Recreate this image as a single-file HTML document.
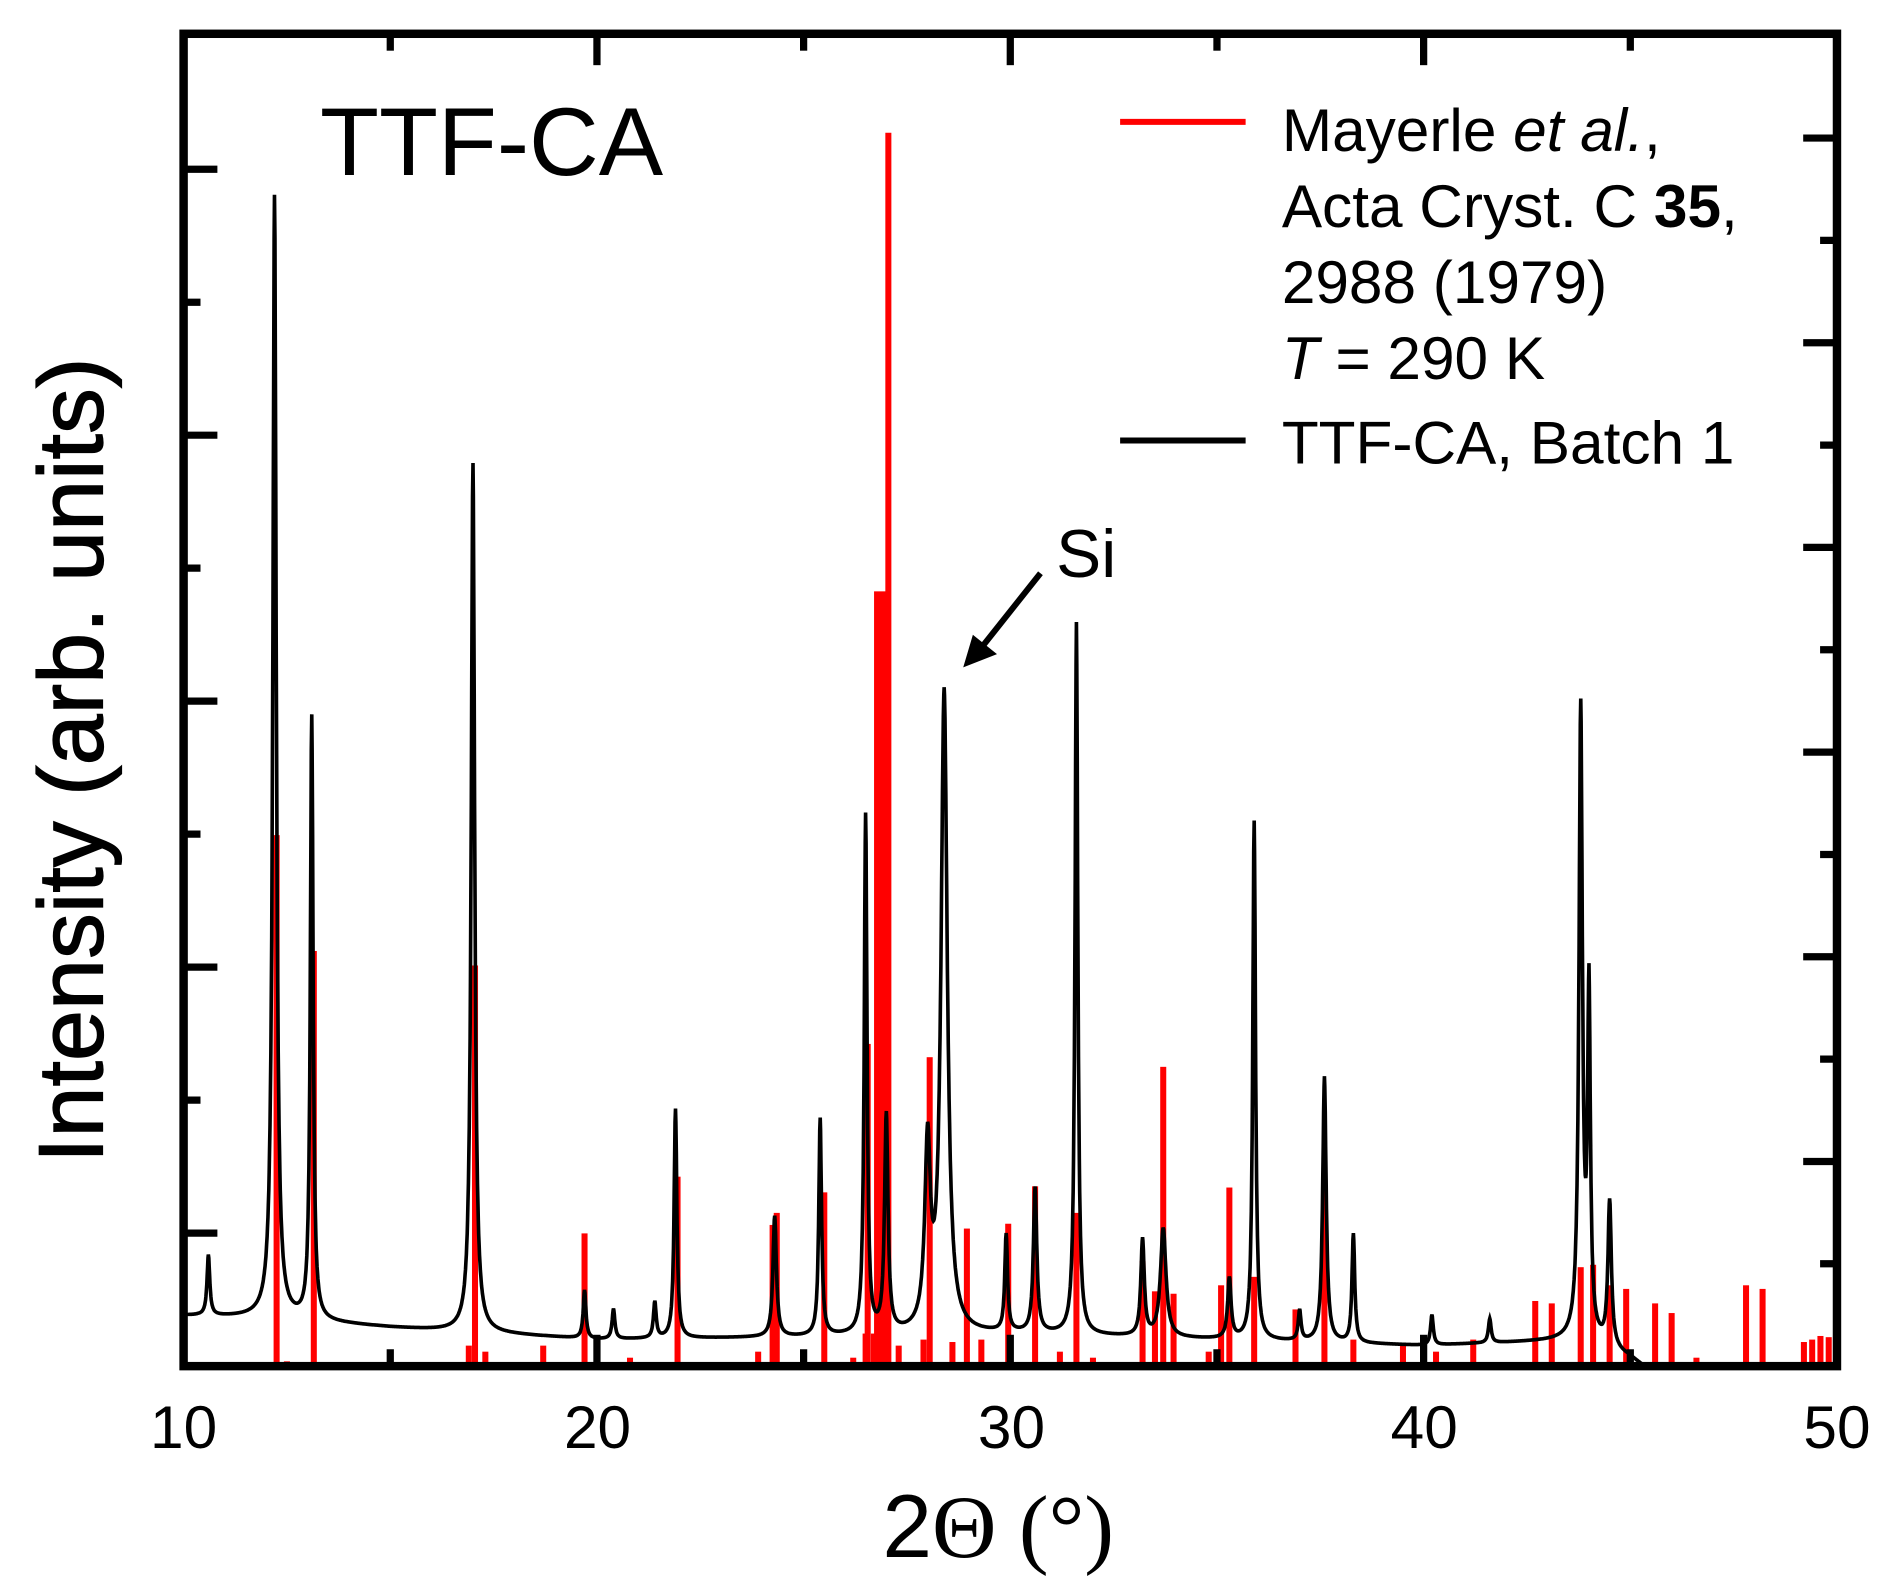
<!DOCTYPE html>
<html><head><meta charset="utf-8"><style>html,body{margin:0;padding:0;background:#fff}svg{display:block}</style></head>
<body>
<svg id="chart" width="1883" height="1587" viewBox="0 0 1560 1315" xmlns="http://www.w3.org/2000/svg" font-family="Liberation Sans, Arial, sans-serif">
<g id="plot"></g>
<g font-size="50" text-anchor="middle" fill="#000">
<text x="152" y="1200">10</text><text x="495" y="1200">20</text><text x="838" y="1200">30</text><text x="1180" y="1200">40</text><text x="1522" y="1200">50</text>
</g>
<text x="827" y="1290" font-size="74" text-anchor="middle">2<tspan font-family="Liberation Serif, serif">Θ (°)</tspan></text>
<text transform="translate(85,630) rotate(-90)" font-size="76" text-anchor="middle" stroke="#000" stroke-width="1">Intensity (arb. units)</text>
<text x="265" y="145" font-size="80">TTF-CA</text>
<text x="875" y="478" font-size="56">Si</text>
<g>
<line x1="862" y1="475" x2="812" y2="538" stroke="#000" stroke-width="5"/>
<polygon points="798,553 806,526 826,542" fill="#000"/>
</g>
<g font-size="50" fill="#000">
<line x1="928" y1="101" x2="1032" y2="101" stroke="#f00" stroke-width="5"/>
<text x="1062" y="125">Mayerle <tspan font-style="italic">et al.</tspan>,</text>
<text x="1062" y="188">Acta Cryst. C <tspan font-weight="bold">35</tspan>,</text>
<text x="1062" y="251">2988 (1979)</text>
<text x="1062" y="314"><tspan font-style="italic">T</tspan> = 290 K</text>
<line x1="928" y1="365" x2="1032" y2="365" stroke="#000" stroke-width="5"/>
<text x="1062" y="384">TTF-CA, Batch 1</text>
</g>
</svg>
<script>
// Reference stick pattern (red): 2θ positions and intensities (arb.)
const refPos = [12.25,12.5,13.15,16.9,17.05,17.3,18.7,19.7,20.8,21.95,23.9,24.25,24.35,25.5,26.2,26.5,26.55,26.7,26.85,27.05,27.3,27.9,28.05,28.6,28.95,29.3,29.95,30.6,31.2,31.6,32.0,33.2,33.5,33.7,33.95,34.8,35.1,35.3,35.9,36.9,37.6,38.3,39.5,40.3,41.2,42.7,43.1,43.8,44.1,44.5,44.9,45.6,46.0,46.6,47.8,48.2,49.2,49.4,49.6,49.8];
const refInt = [44,0.4,34.4,1.7,33.2,1.2,1.7,11,0.7,15.7,1.2,11.7,12.7,14.4,0.7,2.7,26.7,2.7,64.2,102.2,1.7,2.2,25.6,2,11.4,2.2,11.8,14.9,1.2,12.7,0.7,8.7,6.2,24.8,6,1.2,6.7,14.8,7.4,4.7,15.2,2.2,1.7,1.2,2.2,5.4,5.2,8.2,8.4,6.7,6.4,5.2,4.4,0.7,6.7,6.4,2,2.2,2.5,2.4];
const refWidth = [1,1,1,1,1,1,1,1,1,1,1,1,1,1,1,1,1,1,2,1,1,1,1,1,1,1,1,1,1,1,1,1,1,1,1,1,1,1,1,1,1,1,1,1,1,1,1,1,1,1,1,1,1,1,1,1,1,1,1,1];
// Measured pattern (black): background and peaks
const bgPos = [10,12,15,20,25,30,35,40,44,45,45.3];
const bgInt = [4.2,4.0,3.2,2.2,2.4,2.7,2.2,1.7,2.2,0.7,0];
const pkPos = [10.6,12.2,13.1,17.0,19.7,20.4,21.4,21.9,24.3,25.4,26.5,27.0,28.0,28.4,29.9,30.6,31.6,33.2,33.7,35.3,35.9,37.0,37.6,38.3,40.2,41.6,43.8,44.0,44.5];
const pkInt = [5,93,50,72,4,2.5,3,19,10,18,43,18,15,53,8,12,59,8,9,5,43,2.5,22,9,2.5,2,52,28,12];
const pkHw  = [0.04,0.05,0.04,0.05,0.04,0.04,0.04,0.04,0.05,0.04,0.04,0.05,0.08,0.09,0.04,0.05,0.04,0.05,0.08,0.05,0.04,0.04,0.05,0.04,0.04,0.04,0.05,0.04,0.05];
const xTicksMajor = [10,20,30,40,50];
const xTicksMinor = [15,25,35,45];

const L=152,R=1522,T=28,B=1132;
const xs = v => L + (v-10)/(50-10)*(R-L);
const ys = v => B - v*10;
const NS='http://www.w3.org/2000/svg';
const plot=document.getElementById('plot');
function mk(tag,attrs){const e=document.createElementNS(NS,tag);for(const k in attrs)e.setAttribute(k,attrs[k]);return e;}

// red sticks
refPos.forEach((p,i)=>{
  const w=5*refWidth[i];
  const r=mk('rect',{x:xs(p)-w/2,y:ys(refInt[i]),width:w,height:B-ys(refInt[i]),fill:'#f00'});
  
  
  plot.appendChild(r);
});
// black curve
function bg(x){
  if(x>=bgPos[bgPos.length-1])return 0;
  for(let i=0;i<bgPos.length-1;i++){if(x>=bgPos[i]&&x<=bgPos[i+1]){const t=(x-bgPos[i])/(bgPos[i+1]-bgPos[i]);return bgInt[i]+t*(bgInt[i+1]-bgInt[i]);}}
  return 0;
}
let pts=[];
const xEnd=bgPos[bgPos.length-1];
for(let x=10;x<=xEnd;x+=0.01){
  let v=bg(x);
  pkPos.forEach((p,i)=>{const d=(x-p)/pkHw[i];v+=pkInt[i]/(1+d*d);});
  if(x>45)v=Math.min(v,bg(x)+1);
  pts.push(xs(x).toFixed(1)+','+ys(v).toFixed(1));
}
const line=mk('polyline',{points:pts.join(' '),fill:'none',stroke:'#000','stroke-width':3});


plot.appendChild(line);

// ticks
xTicksMajor.forEach(t=>{
  const a=mk('line',{x1:xs(t),x2:xs(t),y1:B,y2:B-26,stroke:'#000','stroke-width':6});
  
  
  plot.appendChild(a);
  const b=mk('line',{x1:xs(t),x2:xs(t),y1:T,y2:T+26,stroke:'#000','stroke-width':6});
  
  
  plot.appendChild(b);
});
xTicksMinor.forEach(t=>{
  const a=mk('line',{x1:xs(t),x2:xs(t),y1:B,y2:B-14,stroke:'#000','stroke-width':6});
  
  
  plot.appendChild(a);
  const b=mk('line',{x1:xs(t),x2:xs(t),y1:T,y2:T+14,stroke:'#000','stroke-width':6});
  
  
  plot.appendChild(b);
});
for(let k=1;k<=9;k++){
  const y=B-k*110.2;const len=(k%2===1)?28:14;
  const a=mk('line',{x1:L,x2:L+len,y1:y,y2:y,stroke:'#000','stroke-width':6});
  
  
  plot.appendChild(a);
}
for(let k=1;k<=12;k++){
  const y=B-k*84.8;const len=(k%2===0)?28:14;
  const a=mk('line',{x1:R,x2:R-len,y1:y,y2:y,stroke:'#000','stroke-width':6});
  
  
  plot.appendChild(a);
}
const fr=mk('rect',{x:L,y:T,width:R-L,height:B-T,fill:'none',stroke:'#000','stroke-width':7});


plot.appendChild(fr);
</script>
</body></html>
